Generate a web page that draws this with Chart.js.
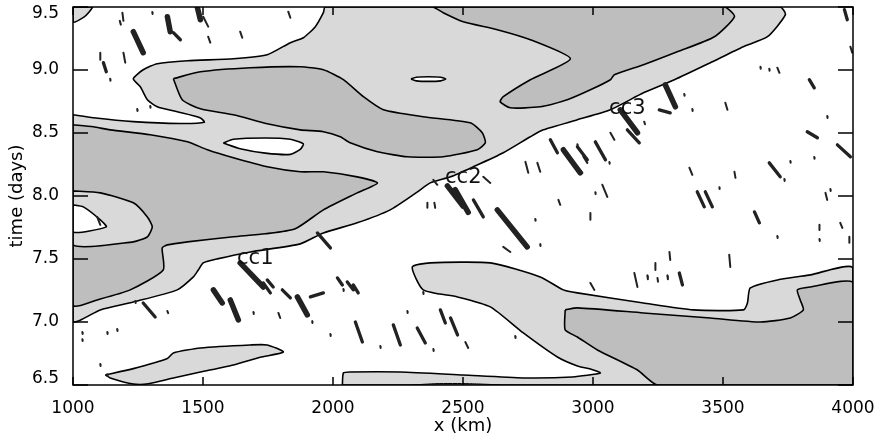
<!DOCTYPE html>
<html>
<head>
<meta charset="utf-8">
<title>Convective cells</title>
<script src="https://cdn.jsdelivr.net/npm/chart.js@4.4.1/dist/chart.umd.min.js"></script>
<style>
    html, body { margin: 0; padding: 0; background: #fff; }
    #wrap { width: 877px; height: 438px; }
</style>
</head>
<body>
<div id="wrap"><canvas id="contourChart" width="877" height="438"></canvas></div>
<script>
// axis ticks
var xTickValues = [1000, 1500, 2000, 2500, 3000, 3500, 4000];
var yTickValues = [6.5, 7.0, 7.5, 8.0, 8.5, 9.0, 9.5];

// contour regions, [x (km), time (days)]
var lightCorner = [[1000, 9.5], [1074, 9.5], [1062, 9.46], [1042, 9.42], [1000, 9.38]];

var lightBand = [
    [1000, 8.645], [1078, 8.621], [1232, 8.59], [1413, 8.575], [1505, 8.585], [1490, 8.62],
    [1401, 8.668], [1324, 8.708], [1286, 8.764], [1259, 8.867], [1232, 8.931], [1270, 9.002],
    [1324, 9.05], [1440, 9.074], [1617, 9.089], [1747, 9.121], [1836, 9.217], [1886, 9.256],
    [1932, 9.344], [1963, 9.455], [1970, 9.5], [3720, 9.5], [3740, 9.439], [3671, 9.264],
    [3578, 9.185], [3451, 9.058], [3313, 8.923], [3194, 8.819], [3067, 8.684], [2940, 8.605],
    [2809, 8.525], [2759, 8.47], [2655, 8.343], [2540, 8.232], [2452, 8.152], [2374, 8.104],
    [2325, 8.033], [2220, 7.89], [2093, 7.787], [1963, 7.707], [1874, 7.62], [1682, 7.556],
    [1555, 7.501], [1501, 7.469], [1482, 7.413], [1463, 7.358], [1401, 7.255], [1232, 7.159],
    [1105, 7.096], [1000, 7.008]
];

var lightTongue = [
    [1000, 8.041], [1105, 8.025], [1232, 7.946], [1286, 7.834], [1305, 7.755],
    [1286, 7.676], [1232, 7.636], [1000, 7.612]
];

var lightBottomLeft = [
    [1124, 6.58], [1232, 6.63], [1363, 6.71], [1386, 6.754], [1490, 6.794], [1682, 6.818],
    [1747, 6.818], [1809, 6.762], [1720, 6.72], [1617, 6.659], [1490, 6.603], [1386, 6.556],
    [1290, 6.51], [1232, 6.508], [1143, 6.556]
];

var lightBottomRight = [
    [2036, 6.5], [2040, 6.595], [2066, 6.603], [2259, 6.603], [2501, 6.579], [2732, 6.556],
    [2920, 6.564], [3028, 6.595], [2990, 6.627], [2940, 6.651], [2863, 6.722], [2732, 6.913],
    [2605, 7.12], [2479, 7.199], [2347, 7.255], [2305, 7.437], [2374, 7.469], [2605, 7.469],
    [2797, 7.358], [2886, 7.255], [2940, 7.231], [3194, 7.151], [3386, 7.096], [3578, 7.096],
    [3594, 7.151], [3605, 7.27], [3709, 7.334], [3836, 7.374], [4000, 7.429], [4000, 6.5]
];

var darkLeft = [
    [1000, 8.565], [1078, 8.549], [1143, 8.525], [1297, 8.486], [1440, 8.43], [1517, 8.367],
    [1617, 8.303], [1747, 8.232], [1874, 8.192], [1963, 8.192], [2093, 8.152], [2171, 8.104],
    [2093, 8.025], [1963, 7.89], [1855, 7.74], [1740, 7.7], [1617, 7.676], [1440, 7.636],
    [1363, 7.612], [1343, 7.588], [1347, 7.413], [1220, 7.255], [1105, 7.183], [1000, 7.135]
];

var darkUpper = [
    [1386, 8.931], [1490, 8.986], [1682, 9.018], [1874, 9.026], [1963, 9.002], [2040, 8.923],
    [2117, 8.788], [2194, 8.684], [2347, 8.629], [2528, 8.581], [2574, 8.502], [2586, 8.422],
    [2555, 8.367], [2424, 8.311], [2286, 8.311], [2171, 8.351], [2066, 8.422], [2028, 8.47],
    [1963, 8.51], [1874, 8.525], [1747, 8.573], [1617, 8.645], [1490, 8.692], [1420, 8.764]
];

var darkTopRight = [
    [2386, 9.5], [2424, 9.455], [2501, 9.383], [2632, 9.32], [2759, 9.24], [2913, 9.089],
    [2759, 8.923], [2655, 8.788], [2643, 8.748], [2682, 8.7], [2797, 8.708], [2901, 8.764],
    [2990, 8.843], [3067, 8.923], [3082, 8.962], [3194, 9.042], [3324, 9.145], [3467, 9.264],
    [3544, 9.423], [3505, 9.5]
];

var darkBottomRight = [
    [2893, 7.096], [2940, 7.112], [3194, 7.072], [3451, 7.032], [3644, 7.0], [3759, 7.032],
    [3809, 7.096], [3797, 7.175], [3786, 7.255], [3836, 7.278], [4000, 7.31], [4000, 6.5],
    [3248, 6.5], [3171, 6.619], [3017, 6.778], [2940, 6.881], [2893, 6.937]
];

var darkSliver = [[2305, 6.5], [2400, 6.511], [2520, 6.511], [2640, 6.5]];

var whiteHole = [
    [1578, 8.42], [1617, 8.45], [1740, 8.46], [1836, 8.45], [1886, 8.415],
    [1874, 8.37], [1836, 8.33], [1740, 8.34], [1643, 8.375]
];

var whiteTongueHole = [[1000, 7.93], [1040, 7.914], [1105, 7.811], [1128, 7.755], [1000, 7.715]];

var whiteEllipse = [
    [2300, 8.928], [2320, 8.942], [2367, 8.946], [2414, 8.942],
    [2434, 8.928], [2414, 8.914], [2367, 8.91], [2320, 8.914]
];

// convective cells as short streaks [x1, t1, x2, t2]
var cellsBig = [
    [1232, 9.304, 1270, 9.137], [1363, 9.423, 1374, 9.304], [1478, 9.5, 1490, 9.399],
    [3278, 8.883, 3317, 8.708], [3105, 8.684, 3171, 8.502], [2440, 8.08, 2500, 7.92],
    [2470, 8.05, 2520, 7.87], [2632, 7.89, 2747, 7.596], [2886, 8.367, 2951, 8.184],
    [1643, 7.469, 1732, 7.278], [1605, 7.175, 1636, 7.016], [1540, 7.255, 1574, 7.151],
    [1863, 7.199, 1901, 7.056]
];

var cellsMid = [
    [1386, 9.296, 1413, 9.24], [1117, 9.058, 1128, 8.986], [3832, 8.923, 3851, 8.859],
    [3255, 8.684, 3297, 8.66], [3824, 8.51, 3863, 8.462], [3940, 8.406, 3990, 8.311],
    [2940, 8.39, 2978, 8.287], [3009, 8.43, 3048, 8.287], [3132, 8.525, 3178, 8.422],
    [3678, 8.263, 3720, 8.152], [3401, 8.033, 3428, 7.914], [3432, 8.033, 3459, 7.914],
    [3621, 7.874, 3640, 7.787], [2540, 7.969, 2578, 7.834], [2836, 8.446, 2863, 8.343],
    [1940, 7.707, 1990, 7.588], [1732, 7.31, 1759, 7.231], [1747, 7.334, 1770, 7.278],
    [1270, 7.151, 1316, 7.04], [1805, 7.255, 1836, 7.191], [1913, 7.199, 1963, 7.231],
    [2017, 7.35, 2036, 7.294], [2055, 7.318, 2078, 7.255], [2078, 7.294, 2097, 7.231],
    [2232, 6.977, 2259, 6.818], [2324, 6.953, 2355, 6.834], [2413, 7.096, 2432, 6.992],
    [2452, 7.032, 2479, 6.897], [3332, 7.389, 3344, 7.294], [3967, 9.479, 3978, 9.399],
    [2086, 7.0, 2113, 6.841]
];

var cellsSmall = [
    [1180, 9.39, 1184, 9.36], [1190, 9.455, 1194, 9.39], [1501, 9.423, 1520, 9.344],
    [1520, 9.264, 1528, 9.217], [1643, 9.304, 1651, 9.256], [1828, 9.463, 1836, 9.415],
    [1305, 9.46, 1306, 9.445], [1105, 9.137, 1105, 9.082], [1194, 9.137, 1201, 9.058],
    [1143, 8.93, 1144, 8.915], [1297, 8.715, 1298, 8.7], [1247, 8.69, 1248, 8.675],
    [3990, 9.185, 3997, 9.137], [3644, 9.025, 3645, 9.01], [3678, 9.01, 3679, 8.995],
    [3709, 9.018, 3717, 8.978], [3351, 8.81, 3352, 8.795], [3382, 8.69, 3383, 8.675],
    [3509, 8.74, 3517, 8.684], [3197, 8.59, 3200, 8.57], [3067, 8.502, 3082, 8.446],
    [3901, 8.635, 3902, 8.62], [2940, 8.232, 2959, 8.184], [3063, 8.27, 3064, 8.255],
    [3036, 8.089, 3055, 7.993], [3009, 8.03, 3010, 8.015], [2990, 7.866, 2990, 7.811],
    [3371, 8.224, 3382, 8.168], [3544, 8.192, 3548, 8.144], [3759, 8.278, 3760, 8.263],
    [3851, 8.31, 3852, 8.295], [3486, 8.07, 3487, 8.055], [3894, 8.025, 3901, 7.969],
    [3913, 8.055, 3914, 8.04], [3951, 7.787, 3959, 7.747], [3871, 7.771, 3871, 7.731],
    [3986, 7.676, 3986, 7.628], [3871, 7.658, 3872, 7.643], [3294, 7.556, 3297, 7.493],
    [3524, 7.533, 3528, 7.437], [3240, 7.469, 3240, 7.413], [3709, 7.682, 3710, 7.667],
    [3736, 8.135, 3737, 8.12], [2386, 8.128, 2401, 8.089], [2363, 7.946, 2363, 7.906],
    [2390, 7.946, 2393, 7.906], [2578, 8.152, 2605, 8.104], [2655, 7.596, 2682, 7.556],
    [2940, 8.41, 2941, 8.395], [2963, 8.311, 2978, 8.263], [2740, 8.271, 2751, 8.184],
    [2786, 8.263, 2797, 8.192], [2867, 7.969, 2874, 7.93], [2778, 7.818, 2779, 7.803],
    [2797, 7.618, 2798, 7.603], [1363, 7.087, 1366, 7.07], [1694, 7.079, 1695, 7.064],
    [1790, 7.072, 1797, 7.032], [1036, 6.92, 1037, 6.905], [1132, 6.92, 1133, 6.905],
    [1170, 6.944, 1171, 6.929], [1036, 6.864, 1037, 6.849], [1105, 6.666, 1106, 6.651],
    [1132, 6.586, 1133, 6.571], [1240, 7.166, 1241, 7.151], [2040, 7.262, 2041, 7.247],
    [1920, 7.007, 1921, 6.992], [1990, 6.904, 1991, 6.889], [2182, 6.809, 2183, 6.794],
    [2286, 7.087, 2287, 7.072], [2386, 6.785, 2387, 6.77], [2509, 6.841, 2520, 6.794],
    [2701, 6.888, 2702, 6.873], [2347, 7.238, 2348, 7.223], [3159, 7.389, 3171, 7.278],
    [3209, 7.37, 3211, 7.34], [3248, 7.35, 3250, 7.32], [3286, 7.37, 3288, 7.34],
    [2990, 7.31, 3005, 7.255], [1093, 7.834, 1105, 7.771]
];

// cell labels [text, x, t]
var cellLabels = [['cc1', 1701, 7.5], ['cc2', 2501, 8.148], ['cc3', 3132, 8.692]];

var lightGray = '#d9d9d9';
var darkGray = '#bebebe';

function polygon(points, color, width) {
    var data = points.map(function (p) { return { x: p[0], y: p[1] }; });
    data.push({ x: points[0][0], y: points[0][1] });
    return {
        data: data,
        borderColor: '#000',
        borderWidth: width || 1.6,
        backgroundColor: color,
        fill: 'shape',
        pointRadius: 0,
        tension: 0.2
    };
}

function cells(list, width) {
    var data = [];
    list.forEach(function (c) {
        data.push({ x: c[0], y: c[1] }, { x: c[2], y: c[3] }, { x: c[2], y: null });
    });
    return {
        data: data,
        borderColor: '#222',
        borderWidth: width,
        borderCapStyle: 'round',
        fill: false,
        pointRadius: 0,
        spanGaps: false,
        tension: 0
    };
}

// bottom layer first
var datasets = [
    polygon(lightCorner, lightGray),
    polygon(lightBand, lightGray),
    polygon(lightBottomLeft, lightGray),
    polygon(lightBottomRight, lightGray),
    polygon(darkLeft, darkGray),
    polygon(darkUpper, darkGray),
    polygon(darkTopRight, darkGray),
    polygon(darkBottomRight, darkGray),
    polygon(darkSliver, darkGray, 1),
    polygon(lightTongue, lightGray),
    polygon(whiteHole, '#fff'),
    polygon(whiteTongueHole, '#fff'),
    polygon(whiteEllipse, '#fff'),
    cells(cellsSmall, 2),
    cells(cellsMid, 3.3),
    cells(cellsBig, 5.5)
];
datasets.forEach(function (d, i) { d.order = datasets.length - i; });

// frame with inward ticks, plus the cell labels
var framePlugin = {
    id: 'frame',
    afterDatasetsDraw: function (chart) {
        var ctx = chart.ctx, a = chart.chartArea;
        var xs = chart.scales.x, ys = chart.scales.y;
        ctx.save();
        ctx.strokeStyle = '#000';
        ctx.lineWidth = 1.5;
        ctx.strokeRect(a.left, a.top, a.right - a.left, a.bottom - a.top);
        ctx.beginPath();
        xTickValues.forEach(function (v) {
            var px = xs.getPixelForValue(v);
            ctx.moveTo(px, a.bottom); ctx.lineTo(px, a.bottom - 8);
            ctx.moveTo(px, a.top); ctx.lineTo(px, a.top + 8);
        });
        yTickValues.forEach(function (v) {
            var py = ys.getPixelForValue(v);
            ctx.moveTo(a.left, py); ctx.lineTo(a.left + 15, py);
            ctx.moveTo(a.right, py); ctx.lineTo(a.right - 15, py);
        });
        ctx.stroke();
        ctx.fillStyle = '#111';
        ctx.font = '21px "DejaVu Sans", sans-serif';
        ctx.textAlign = 'center';
        ctx.textBaseline = 'middle';
        cellLabels.forEach(function (l) {
            ctx.fillText(l[0], xs.getPixelForValue(l[1]), ys.getPixelForValue(l[2]));
        });
        ctx.restore();
    }
};

Chart.defaults.font.family = '"DejaVu Sans", sans-serif';
Chart.defaults.color = '#000';

new Chart(document.getElementById('contourChart'), {
    type: 'line',
    data: { datasets: datasets },
    options: {
        responsive: false,
        animation: false,
        layout: { padding: { top: 7, right: 24, left: 0, bottom: 0 } },
        plugins: {
            legend: { display: false },
            tooltip: { enabled: false }
        },
        scales: {
            x: {
                type: 'linear',
                min: 1000,
                max: 4000,
                afterBuildTicks: function (scale) {
                    scale.ticks = xTickValues.map(function (v) { return { value: v }; });
                },
                afterFit: function (scale) {
                    scale.height = 53;
                    scale.paddingLeft = 0;
                    scale.paddingRight = 0;
                },
                grid: { display: false },
                border: { display: false },
                ticks: {
                    padding: 5,
                    maxRotation: 0,
                    autoSkip: false,
                    font: { size: 17 },
                    callback: function (v) { return String(v); }
                },
                title: {
                    display: true,
                    text: 'x (km)',
                    font: { size: 18 },
                    padding: { top: 0, bottom: 1 }
                }
            },
            y: {
                type: 'linear',
                min: 6.5,
                max: 9.5,
                afterBuildTicks: function (scale) {
                    scale.ticks = yTickValues.map(function (v) { return { value: v }; });
                },
                afterFit: function (scale) {
                    scale.width = 73;
                    scale.paddingTop = 0;
                    scale.paddingBottom = 0;
                },
                grid: { display: false },
                border: { display: false },
                ticks: {
                    padding: 6,
                    font: { size: 17, lineHeight: 0.8 },
                    callback: function (v) {
                        var label = v.toFixed(1);
                        if (v === yTickValues[yTickValues.length - 1]) return ['', label];
                        if (v === yTickValues[0]) return [label, ''];
                        return label;
                    }
                },
                title: {
                    display: true,
                    text: 'time (days)',
                    font: { size: 18 },
                    padding: { top: 7, bottom: 0 }
                }
            }
        }
    },
    plugins: [framePlugin]
});
</script>
</body>
</html>
